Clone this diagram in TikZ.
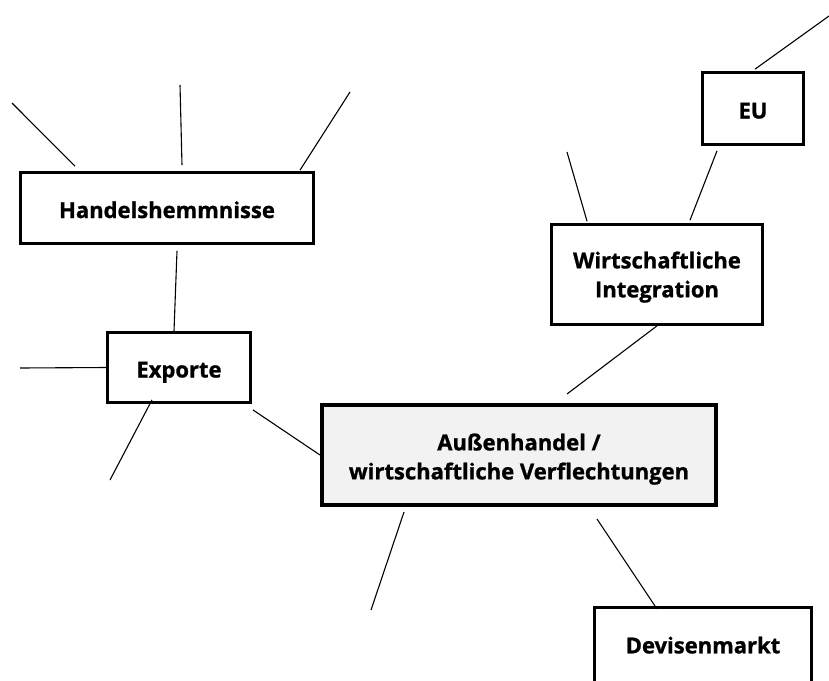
\documentclass[tikz,border=0pt]{standalone}
\usepackage{fontspec}
\setmainfont{Open Sans}[BoldFeatures={FakeBold=1}]
\usetikzlibrary{calc}
\definecolor{boxgrau}{RGB}{242,242,242}

\begin{document}
\begin{tikzpicture}[x=1pt, y=-1pt,
      thema/.style={draw=black, line width=2.7pt, fill=white, align=center,
                    inner sep=0pt, font=\fontsize{22}{29}\selectfont\bfseries},
      einzeilig/.style={text height=20pt, text depth=0pt},
      kern/.style={thema, line width=4pt, fill=boxgrau},
      ast/.style={black, line width=1.1pt}]
    \useasboundingbox (0,0) rectangle (829,680);
    \clip (0,0) rectangle (829,680);
    % topic boxes
    \node[kern, minimum width=394pt, minimum height=100pt] (haupt) at (519,455)
      {\rule{0pt}{25pt}Außenhandel /\\wirtschaftliche Verflechtungen};
    \node[thema, einzeilig, minimum width=293pt, minimum height=71pt] (hemm)
      at (167,208) {Handelshemmnisse};
    \node[thema, einzeilig, minimum width=143pt, minimum height=70pt] (expo)
      at (179,367.5) {Exporte};
    \node[thema, minimum width=211pt, minimum height=100pt] (integ) at (657,274.5)
      {\rule{0pt}{22pt}Wirtschaftliche\\Integration};
    \node[thema, einzeilig, minimum width=101pt, minimum height=72pt] (eu)
      at (753,108.5) {EU};
    \node[thema, text height=10pt, text depth=0pt, minimum width=217pt,
          minimum height=82pt] (devi) at (703,648.35) {Devisenmarkt};
    % loose ends of the branches
    \coordinate (h1) at (12,103);
    \coordinate (h2) at (180,85);
    \coordinate (h3) at (350,92);
    \coordinate (e1) at (20,368);
    \coordinate (e2) at (110,480);
    \coordinate (k1) at (371,610);
    \coordinate (i1) at (567,152);
    \coordinate (u1) at (829,16);
    % branches between boxes
    \draw[ast] ($(hemm.south)+(10,6)$) -- ($(expo.north)+(-5,0)$);
    \draw[ast] ($(expo.south east)+(1,6)$) -- (haupt.west);
    \draw[ast] ($(haupt.south)+(78,12)$) -- ($(devi.north)+(-46,3)$);
    \draw[ast] ($(haupt.north)+(48,-9)$) -- (integ.south);
    \draw[ast] ($(integ.north)+(33,-3)$) -- ($(eu.south)+(-36,5)$);
    % free branches
    \foreach \von/\dx/\dy/\bis in {hemm.north/-92/-5/h1, hemm.north/15/-6/h2,
        hemm.north/133/-1/h3, expo.west/0/0/e1, expo.south/-27/-4/e2,
        haupt.south/-115/5/k1, integ.north/-70/-2/i1, eu.north/2/-2/u1}{
      \draw[ast] ($(\von)+(\dx,\dy)$) -- (\bis);
    }
  \end{tikzpicture}
\end{document}
